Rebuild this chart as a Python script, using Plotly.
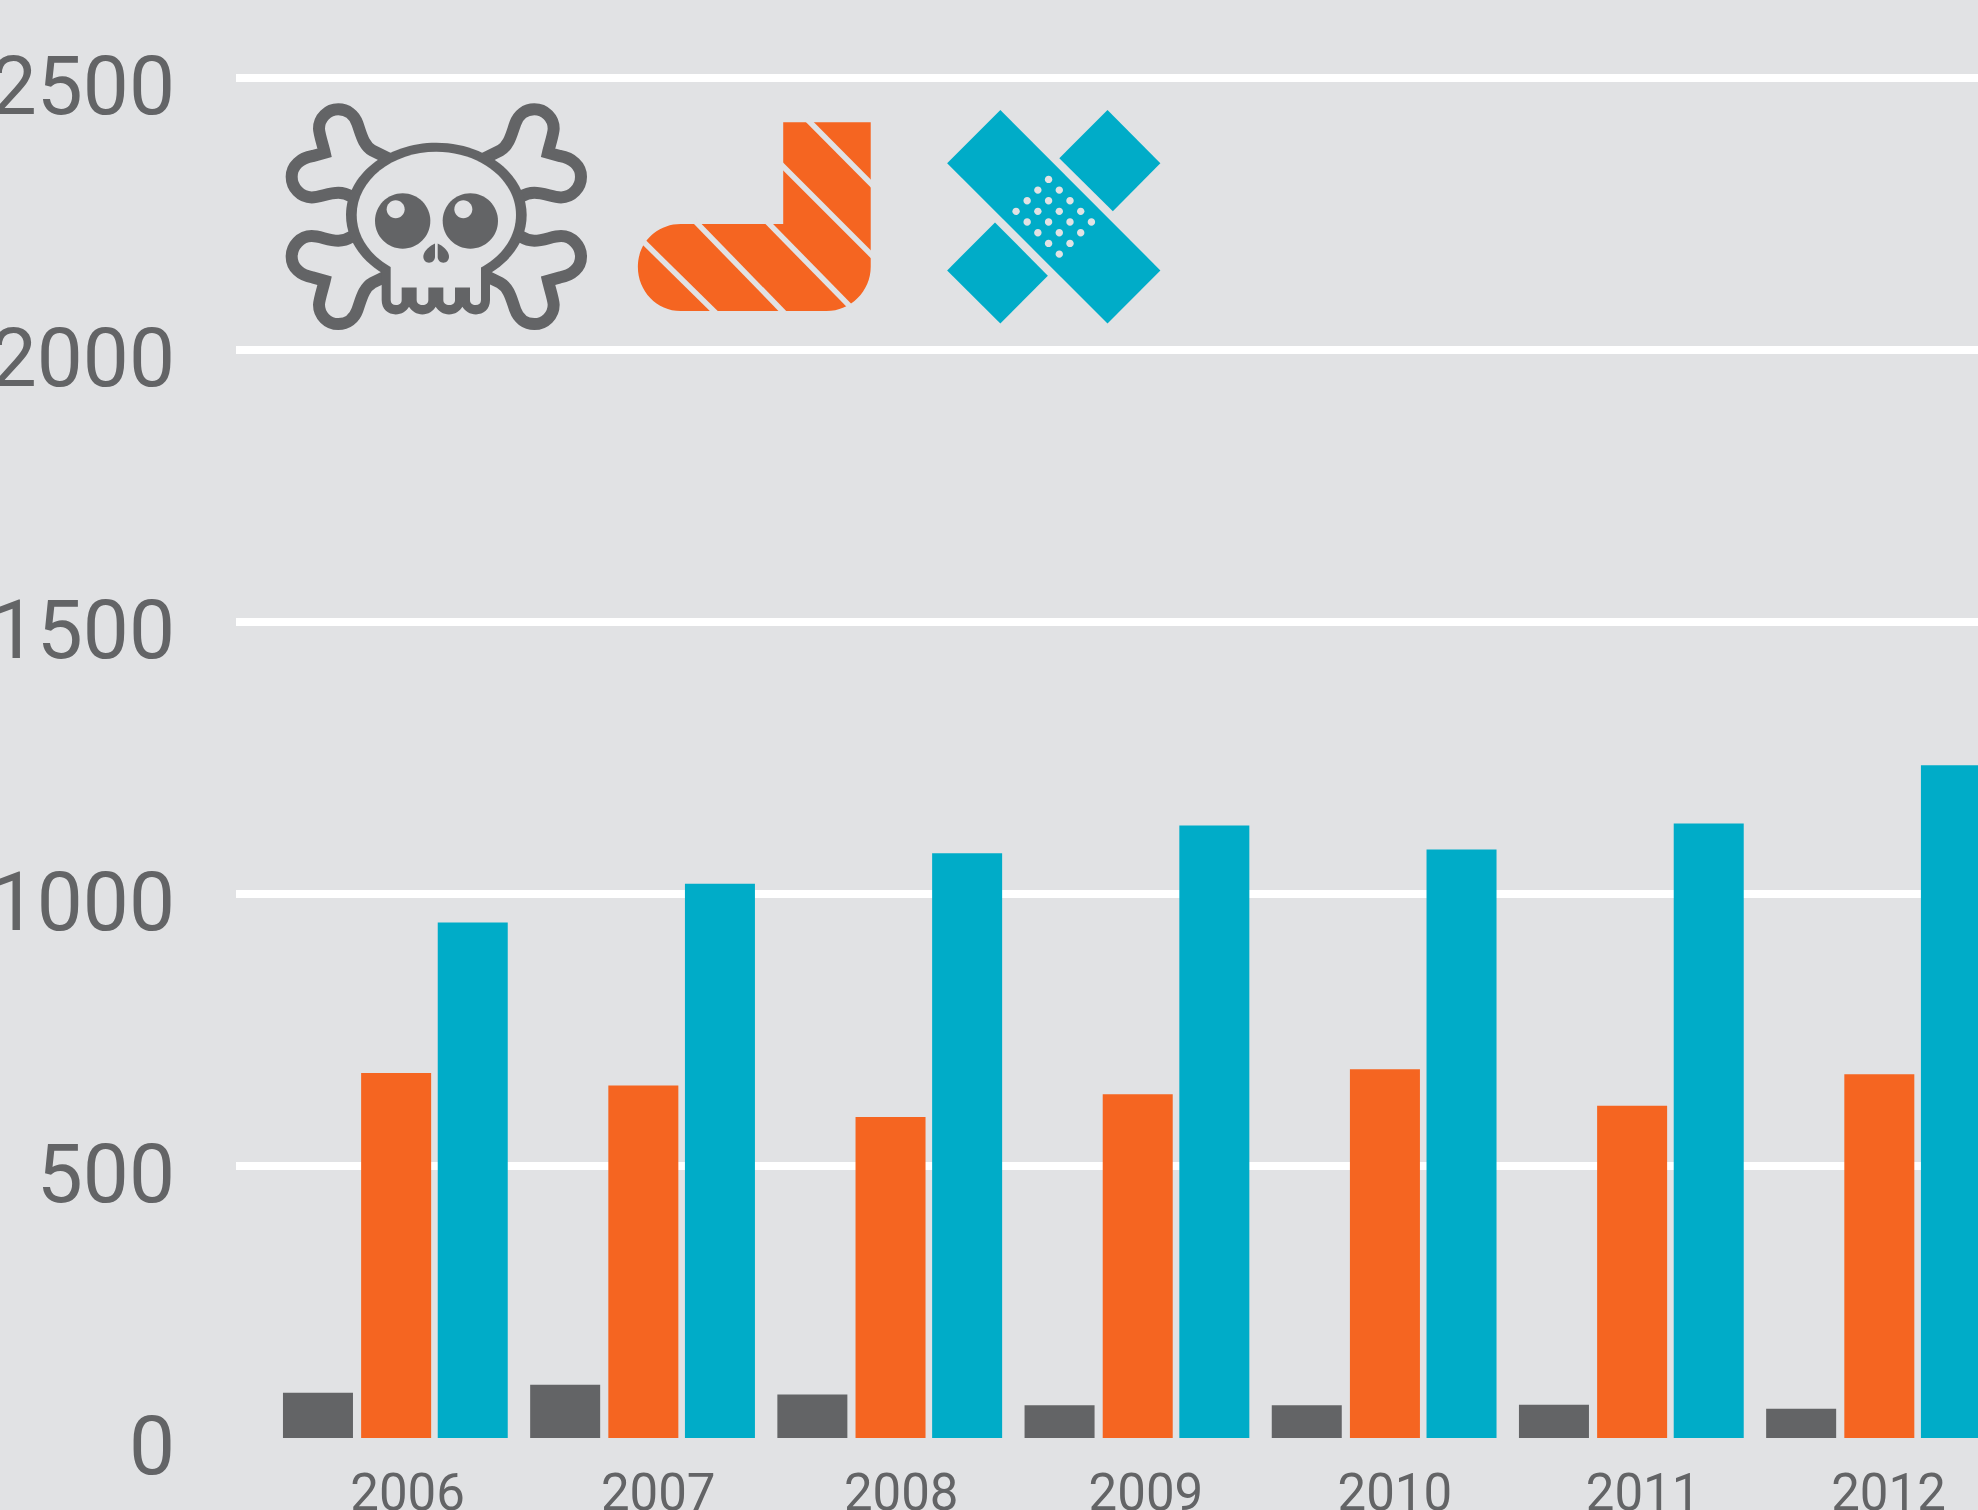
import plotly.graph_objects as go

years = [2006, 2007, 2008, 2009, 2010, 2011, 2012]
tick_labels = ["2006", "2007", "2008", "2009", "2010", "2011", "2012"]
label_nudge = [0.049, 0.063, 0.046, 0.036, 0.043, 0.047, 0.040]
deaths = [83, 98, 80, 60, 60, 61, 54]
fractures = [671, 648, 590, 632, 678, 611, 669]
wounds = [948, 1019, 1075, 1126, 1082, 1130, 1237]
y_ticks = [0, 500, 1000, 1500, 2000, 2500]

BG = "#E1E2E4"
GREY = "#636466"
ORANGE = "#F56521"
TEAL = "#00ACC8"

W, H = 1978, 1510
PL, PB = 236, 72.3
PW, PH = W - PL, H - PB


class Icon:
    """Draws decoration in a local coordinate system mapped to page pixels."""
    def __init__(self, ox, oy, sx, sy):
        self.ox, self.oy, self.sx, self.sy = ox, oy, sx, sy

    def p(self, x, y):
        px = self.ox + x / self.sx
        py = self.oy + y / self.sy
        return f"{(px - PL) / PW:.5f},{1 - py / PH:.5f}"

    def path(self, cmds):
        out = []
        for c in cmds:
            if c == "Z":
                out.append("Z")
                continue
            op, *nums = c
            pts = [self.p(nums[i], nums[i + 1]) for i in range(0, len(nums), 2)]
            out.append(op + " ".join(pts))
        return " ".join(out)

    def ellipse(self, cx, cy, rx, ry):
        k = 0.5523
        return self.path([
            ("M", cx - rx, cy),
            ("C", cx - rx, cy - k * ry, cx - k * rx, cy - ry, cx, cy - ry),
            ("C", cx + k * rx, cy - ry, cx + rx, cy - k * ry, cx + rx, cy),
            ("C", cx + rx, cy + k * ry, cx + k * rx, cy + ry, cx, cy + ry),
            ("C", cx - k * rx, cy + ry, cx - rx, cy + k * ry, cx - rx, cy),
            "Z",
        ])


shapes = []


def fill(path, color):
    shapes.append(dict(type="path", path=path, xref="paper", yref="paper", layer="above",
                       fillcolor=color, line=dict(width=0)))


def stroke(path, color, width, fillcolor=None):
    shapes.append(dict(type="path", path=path, xref="paper", yref="paper", layer="above",
                       fillcolor=fillcolor if fillcolor else "rgba(0,0,0,0)",
                       line=dict(color=color, width=width)))


# Skull and crossbones
sk = Icon(260, 80, 3, 3)


def bone_path(mx, my):
    f = lambda x, y: ((1058 - x) if mx else x, (820 - y) if my else y)
    return sk.path([
        ("M", *f(385, 235)),
        ("L", *f(338, 212)),
        ("C", *f(310, 197), *f(303, 160), *f(292, 130)),
        ("C", *f(283, 105), *f(262, 88), *f(235, 88)),
        ("C", *f(203, 88), *f(177, 114), *f(177, 146)),
        ("C", *f(177, 160), *f(190, 200), *f(194, 218)),
        ("L", *f(158, 228)),
        ("C", *f(122, 234), *f(95, 257), *f(95, 290)),
        ("C", *f(95, 323), *f(122, 352), *f(155, 352)),
        ("C", *f(180, 352), *f(205, 338), *f(235, 338)),
        ("C", *f(250, 338), *f(262, 342), *f(275, 350)),
        ("L", *f(450, 390)),
        "Z",
    ])


for mx in (False, True):
    for my in (False, True):
        stroke(bone_path(mx, my), GREY, 12, BG)

fill(sk.ellipse(529, 405, 271, 217), GREY)
fill(sk.path([
    ("M", 365, 540), ("L", 365, 660),
    ("C", 365, 688, 385, 703, 407, 703), ("C", 425, 703, 440, 693, 447, 680),
    ("C", 455, 693, 470, 703, 487, 703), ("C", 505, 703, 520, 693, 527, 680),
    ("C", 535, 693, 550, 703, 567, 703), ("C", 585, 703, 600, 693, 607, 680),
    ("C", 615, 693, 630, 703, 648, 703), ("C", 670, 703, 690, 688, 690, 660),
    ("L", 690, 540), "Z",
]), GREY)
fill(sk.ellipse(529, 405, 239, 190), BG)
fill(sk.path([
    ("M", 392, 520), ("L", 392, 660),
    ("C", 392, 670, 398, 675, 408, 675), ("C", 418, 675, 425, 670, 425, 660),
    ("L", 425, 622), ("L", 470, 622), ("L", 470, 660),
    ("C", 470, 670, 478, 675, 488, 675), ("C", 498, 675, 505, 670, 505, 660),
    ("L", 505, 622), ("L", 550, 622), ("L", 550, 660),
    ("C", 550, 670, 558, 675, 568, 675), ("C", 578, 675, 585, 670, 585, 660),
    ("L", 585, 622), ("L", 630, 622), ("L", 630, 660),
    ("C", 630, 670, 637, 675, 647, 675), ("C", 657, 675, 663, 670, 663, 660),
    ("L", 663, 520), "Z",
]), BG)
fill(sk.ellipse(428, 423, 83, 83), GREY)
fill(sk.ellipse(631, 423, 83, 83), GREY)
fill(sk.ellipse(407, 388, 27, 27), BG)
fill(sk.ellipse(610, 388, 27, 27), BG)
fill(sk.path([("M", 525, 490), ("L", 525, 530), ("C", 525, 540, 517, 548, 507, 548),
              ("C", 497, 548, 490, 540, 490, 530), ("C", 490, 512, 510, 497, 525, 490), "Z"]), GREY)
fill(sk.path([("M", 533, 490), ("L", 533, 530), ("C", 533, 540, 540, 548, 550, 548),
              ("C", 560, 548, 567, 540, 567, 530), ("C", 567, 512, 548, 497, 533, 490), "Z"]), GREY)

# Striped cast
ic = Icon(620, 90, 2.8, 3)
fill(ic.path([
    ("M", 457, 97), ("L", 702, 97), ("L", 702, 530),
    ("C", 702, 603, 646, 663, 578, 663), ("L", 170, 663),
    ("C", 103, 663, 50, 603, 50, 530), ("C", 50, 458, 103, 402, 170, 402),
    ("L", 457, 402), "Z",
]), ORANGE)
for a, b, c, d in [(523, 87, 712, 291), (447, 219, 712, 503), (408, 391, 655, 661),
                   (208, 391, 462, 671), (58, 447, 274, 675)]:
    stroke(ic.path([("M", a, b), ("L", c, d)]), BG, 5.5)

# Bandages
for pts in [
    [(1065, 60), (1513, 541), (1365, 700), (916, 220)],
    [(1365, 60), (1513, 220), (1380, 364), (1230, 205)],
    [(1050, 397), (1198, 557), (1065, 700), (916, 541)],
]:
    fill(ic.path([("M", *pts[0])] + [("L", *q) for q in pts[1:]] + ["Z"]), TEAL)
for x, y in [(1200, 268), (1170, 300), (1230, 300), (1140, 332), (1200, 332), (1260, 332),
             (1109, 364), (1170, 364), (1230, 364), (1290, 364), (1140, 396), (1200, 396),
             (1260, 396), (1320, 396), (1170, 428), (1230, 428), (1290, 428), (1200, 460),
             (1260, 460), (1230, 492)]:
    fill(ic.ellipse(x, y, 10.4, 11), BG)

fig = go.Figure()
for vals, col, name, off in [(deaths, GREY, "Deaths", -0.455),
                             (fractures, ORANGE, "Fractures", -0.1388),
                             (wounds, TEAL, "Wounds", 0.1711)]:
    fig.add_trace(go.Bar(x=years, y=vals, name=name, offset=off, width=0.2832,
                         marker=dict(color=col, line=dict(width=0))))

FONT = "Roboto"
fig.update_layout(
    width=W, height=H,
    margin=dict(l=PL, r=0, t=0, b=PB, pad=0, autoexpand=False),
    paper_bgcolor=BG, plot_bgcolor=BG,
    barmode="overlay",
    showlegend=False,
    shapes=shapes,
    xaxis=dict(
        range=[2005.355, 2012.402],
        tickvals=[y + n for y, n in zip(years, label_nudge)],
        ticktext=tick_labels,
        showgrid=False, zeroline=False, showline=False, ticks="",
        tickfont=dict(family=FONT, size=51, color=GREY, weight=400),
        tickangle=0, ticklabelstandoff=20, automargin=False,
    ),
    yaxis=dict(
        range=[0, 2644],
        tickvals=y_ticks, ticktext=[str(v) for v in y_ticks],
        showgrid=True, gridcolor="#FFFFFF", gridwidth=8,
        zeroline=False, showline=False, ticks="",
        tickfont=dict(family=FONT, size=82, color=GREY, weight=400),
        ticklabelstandoff=60, ticklabelshift=7, automargin=False,
    ),
)

fig.write_html("out.html", config=dict(displayModeBar=False),
               post_script="document.body.style.margin='0';document.body.style.overflow='hidden';document.body.style.background='%s';" % BG)
